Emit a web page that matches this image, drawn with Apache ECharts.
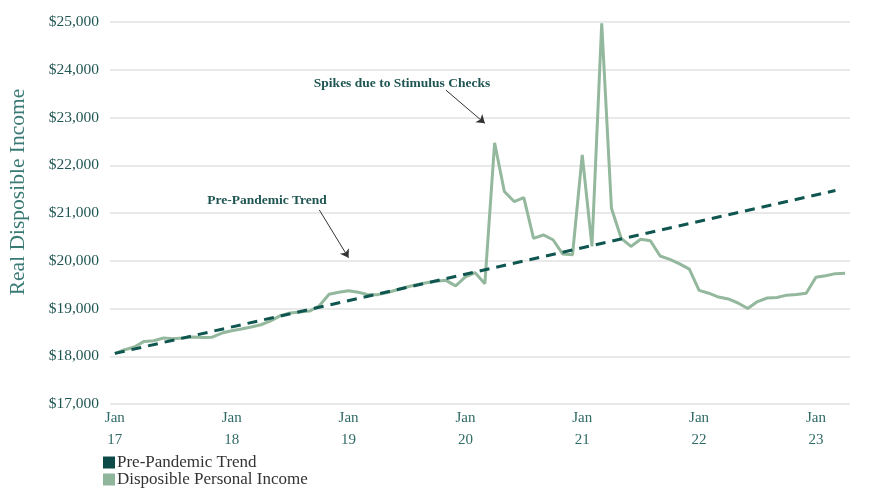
<!DOCTYPE html>
<html>
<head>
<meta charset="utf-8">
<script src="https://cdn.jsdelivr.net/npm/echarts@6/dist/echarts.min.js"></script>
<style>html,body{margin:0;padding:0;background:#fff}#c{width:870px;height:489px}</style>
</head>
<body>
<div id="c"></div>
<script>
// Months Jan 2017 .. Apr 2023
var years = ['17','18','19','20','21','22','23'];
var monthNames = ['Jan','Feb','Mar','Apr','May','Jun','Jul','Aug','Sep','Oct','Nov','Dec'];
var months = [];
for (var y = 0; y < years.length; y++) {
  for (var m = 0; m < 12; m++) {
    if (y === 6 && m > 3) break;
    months.push(monthNames[m] + ' ' + years[y]);
  }
}
// Disposable personal income
var income = [
  18054, 18137, 18193, 18311, 18326, 18382, 18367, 18382, 18403, 18395, 18400, 18486,
  18535, 18570, 18612, 18660, 18740, 18850, 18905, 18925, 18946, 19057, 19300, 19340,
  19371, 19340, 19290, 19290, 19335, 19392, 19450, 19500, 19540, 19570, 19590, 19475,
  19660, 19750, 19520, 22470, 21450, 21240, 21320, 20470, 20540, 20440, 20140, 20125,
  22215, 20300, 24970, 21100, 20470, 20300, 20450, 20420, 20100, 20030, 19935, 19825,
  19380, 19320, 19240, 19200, 19115, 19000, 19145, 19220, 19230, 19280, 19295, 19320,
  19655, 19685, 19730, 19740
];
// Pre-pandemic trend: endpoints (Jan 17 and Mar 23)
var trendStart = 18060, trendEnd = 21470, trendEndIndex = 74;
var trend = months.map(function (_, i) {
  return i === 0 ? trendStart : (i === trendEndIndex ? trendEnd : null);
});
var yTicks = [17000, 18000, 19000, 20000, 21000, 22000, 23000, 24000, 25000];

var serif = '"Liberation Serif", "DejaVu Serif", serif';
var teal = '#1f5552';
var chart = echarts.init(document.getElementById('c'));
chart.setOption({
  animation: false,
  backgroundColor: '#ffffff',
  grid: { left: 110, right: 20, top: 22, bottom: 85, containLabel: false },
  legend: [
    {
      left: 98, top: 449, itemWidth: 12, itemHeight: 12, icon: 'rect',
      textStyle: { fontFamily: serif, fontSize: 17, color: '#333333', padding: [0, 0, 0, -3] },
      data: ['Pre-Pandemic Trend']
    },
    {
      left: 98, top: 466, itemWidth: 12, itemHeight: 12, icon: 'rect',
      textStyle: { fontFamily: serif, fontSize: 17, color: '#333333', padding: [0, 0, 0, -3] },
      data: ['Disposible Personal Income']
    }
  ],
  xAxis: {
    type: 'category', data: months, boundaryGap: true,
    axisLine: { show: false }, axisTick: { show: false },
    axisLabel: {
      interval: function (i) { return i % 12 === 0; },
      formatter: function (v) { var p = v.split(' '); return p[0] + '\n' + p[1]; },
      fontFamily: serif, fontSize: 15, color: '#2f6a66', lineHeight: 22, margin: 3
    }
  },
  yAxis: {
    type: 'value', min: yTicks[0], max: yTicks[yTicks.length - 1], interval: 1000,
    axisLine: { show: false }, axisTick: { show: false },
    splitLine: { lineStyle: { color: '#e2e2e2', width: 1.5 } },
    axisLabel: {
      fontFamily: serif, fontSize: 15.5, color: teal, margin: 11,
      formatter: function (v) { return '$' + v.toLocaleString('en-US'); }
    }
  },
  graphic: [
    { type: 'text', x: 18, y: 192, rotation: Math.PI / 2,
      style: { text: 'Real Disposible Income', fontFamily: serif, fontSize: 21.5, fill: '#3a7a74',
        textAlign: 'center', textVerticalAlign: 'middle' } },
    { type: 'text', x: 402, y: 84,
      style: { text: 'Spikes due to Stimulus Checks', fontFamily: serif, fontWeight: 'bold', fontSize: 13.5,
        fill: teal, textAlign: 'center', textVerticalAlign: 'middle' } },
    { type: 'text', x: 267, y: 201,
      style: { text: 'Pre-Pandemic Trend', fontFamily: serif, fontWeight: 'bold', fontSize: 13.5,
        fill: teal, textAlign: 'center', textVerticalAlign: 'middle' } }
  ],
  series: [
    {
      name: 'Disposible Personal Income', type: 'line', data: income, symbol: 'none',
      lineStyle: { color: '#93b89d', width: 3 }, itemStyle: { color: '#8fb59b' }, z: 2
    },
    {
      name: 'Pre-Pandemic Trend', type: 'line', data: trend, connectNulls: true, symbol: 'none',
      lineStyle: { color: '#0f5550', width: 3, type: [10, 7] }, itemStyle: { color: '#0b4a46' }, z: 3,
      markLine: {
        silent: true, symbol: ['none', 'arrow'], symbolSize: 8,
        lineStyle: { color: '#333333', width: 1, type: 'solid' }, label: { show: false },
        data: [
          [{ coord: [34, 23573] }, { coord: [38, 22877] }],
          [{ coord: [21, 21064] }, { coord: [24, 20061] }]
        ]
      }
    }
  ]
});
</script>
</body>
</html>
